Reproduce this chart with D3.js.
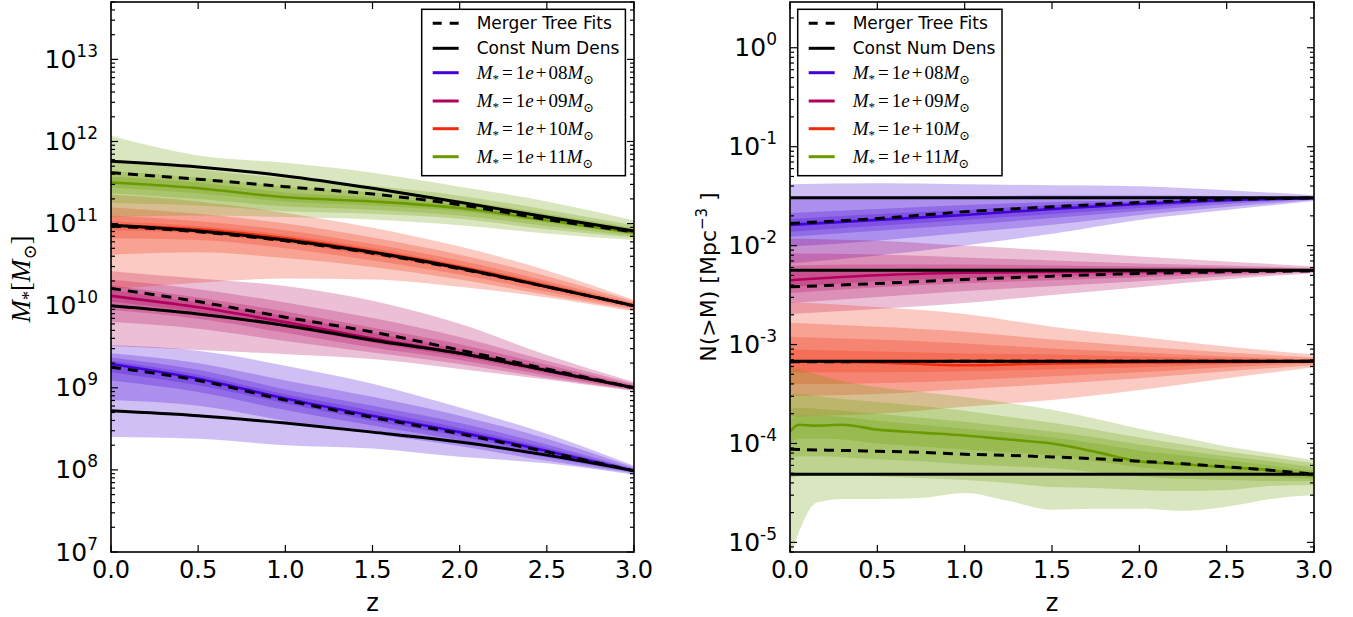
<!DOCTYPE html>
<html><head><meta charset="utf-8">
<script src="https://cdn.jsdelivr.net/npm/d3@7"></script>
<style>body{margin:0;background:#fff}svg{display:block}</style>
</head><body>
<svg id="chart" width="1353" height="617"></svg>
<script>
// ---------------- DATA ----------------
const xTicks = [0, 0.5, 1, 1.5, 2, 2.5, 3];
const seriesLabels = ["1e+08", "1e+09", "1e+10", "1e+11"];
const seriesColors = ["#4400d8", "#b0005c", "#f02a0a", "#6b9a00"];
const legendText = ["Merger Tree Fits", "Const Num Dens"];

// Left panel: log10 stellar mass vs z
const zMass = [0, 0.5, 1, 1.5, 2, 2.5, 3];
const logMassMedian = [
  [9.29, 9.11, 8.87, 8.66, 8.46, 8.23, 7.99],
  [10.12, 9.98, 9.80, 9.60, 9.42, 9.21, 9.00],
  [10.98, 10.93, 10.82, 10.66, 10.47, 10.24, 10.00],
  [11.50, 11.43, 11.32, 11.27, 11.19, 11.04, 10.89]
];
const logMassFit = [
  [9.25, 9.09, 8.85, 8.64, 8.44, 8.22, 7.99],
  [10.21, 10.05, 9.86, 9.68, 9.46, 9.23, 9.00],
  [10.97, 10.90, 10.79, 10.64, 10.45, 10.23, 10.00],
  [11.62, 11.54, 11.45, 11.36, 11.23, 11.05, 10.90]
];
const logMassConst = [
  [8.72, 8.66, 8.57, 8.46, 8.34, 8.18, 7.99],
  [10.00, 9.90, 9.76, 9.58, 9.42, 9.21, 9.00],
  [10.98, 10.91, 10.80, 10.65, 10.46, 10.23, 10.00],
  [11.76, 11.69, 11.58, 11.43, 11.26, 11.08, 10.91]
];
// bands: outermost first
const logMassHi = [
  [[9.52, 9.45, 9.27, 9.05, 8.76, 8.44, 8.05], [9.42, 9.30, 9.09, 8.89, 8.66, 8.38, 8.03], [9.37, 9.22, 8.98, 8.78, 8.57, 8.31, 8.01], [9.33, 9.16, 8.92, 8.72, 8.51, 8.27, 8.00]],
  [[10.42, 10.33, 10.24, 10.06, 9.78, 9.40, 9.07], [10.32, 10.20, 10.04, 9.85, 9.62, 9.33, 9.05], [10.25, 10.10, 9.93, 9.73, 9.53, 9.28, 9.03], [10.19, 10.04, 9.87, 9.67, 9.47, 9.24, 9.02]],
  [[11.35, 11.27, 11.13, 10.95, 10.72, 10.43, 10.07], [11.20, 11.12, 11.00, 10.83, 10.62, 10.36, 10.05], [11.10, 11.03, 10.92, 10.75, 10.55, 10.30, 10.03], [11.03, 10.97, 10.86, 10.70, 10.50, 10.27, 10.01]],
  [[12.07, 11.83, 11.74, 11.62, 11.45, 11.27, 11.04], [11.78, 11.66, 11.55, 11.46, 11.34, 11.17, 10.98], [11.64, 11.56, 11.45, 11.38, 11.28, 11.12, 10.95], [11.57, 11.50, 11.38, 11.32, 11.23, 11.08, 10.92]]
];
const logMassLo = [
  [[8.40, 8.38, 8.30, 8.26, 8.16, 8.08, 7.94], [8.85, 8.78, 8.60, 8.44, 8.29, 8.11, 7.96], [9.09, 8.95, 8.73, 8.54, 8.36, 8.15, 7.97], [9.19, 9.03, 8.81, 8.60, 8.41, 8.19, 7.98]],
  [[9.51, 9.46, 9.41, 9.35, 9.23, 9.10, 8.96], [9.80, 9.72, 9.57, 9.43, 9.29, 9.12, 8.97], [9.95, 9.84, 9.67, 9.49, 9.34, 9.15, 8.98], [10.05, 9.92, 9.74, 9.55, 9.38, 9.18, 8.99]],
  [[10.20, 10.28, 10.33, 10.32, 10.23, 10.10, 9.93], [10.62, 10.65, 10.58, 10.47, 10.32, 10.13, 9.95], [10.82, 10.80, 10.70, 10.55, 10.38, 10.17, 9.97], [10.92, 10.88, 10.77, 10.61, 10.43, 10.21, 9.99]],
  [[11.08, 11.10, 11.08, 11.05, 10.98, 10.88, 10.80], [11.25, 11.22, 11.15, 11.12, 11.06, 10.93, 10.83], [11.37, 11.30, 11.21, 11.17, 11.10, 10.97, 10.85], [11.44, 11.37, 11.27, 11.22, 11.15, 11.01, 10.87]]
];

// Right panel: log10 number density vs z
const zGreen = [0, 0.05, 0.15, 0.3, 0.5, 0.75, 1, 1.25, 1.5, 1.75, 2, 2.25, 2.5, 2.75, 3];
const zNum = [zMass, zMass, zMass, zGreen];
const logNumConst = [-1.517, -2.248, -3.169, -4.311];
const logNumMedian = [
  [-1.79, -1.74, -1.69, -1.63, -1.58, -1.54, -1.52],
  [-2.35, -2.30, -2.275, -2.265, -2.26, -2.255, -2.25],
  [-3.17, -3.18, -3.21, -3.19, -3.18, -3.175, -3.17],
  [-3.88, -3.81, -3.82, -3.81, -3.86, -3.89, -3.92, -3.96, -4.00, -4.085, -4.18, -4.21, -4.24, -4.27, -4.33]
];
const logNumFit = [
  [-1.776, -1.726, -1.658, -1.608, -1.564, -1.534, -1.517],
  [-2.417, -2.383, -2.342, -2.309, -2.282, -2.265, -2.255],
  [-3.175, -3.172, -3.17, -3.17, -3.17, -3.17, -3.17],
  [-4.058, -4.06, -4.065, -4.07, -4.078, -4.09, -4.109, -4.12, -4.136, -4.155, -4.18, -4.205, -4.237, -4.27, -4.311]
];
const logNumHi = [
  [[-1.38, -1.37, -1.38, -1.39, -1.40, -1.44, -1.49], [-1.52, -1.51, -1.50, -1.49, -1.49, -1.50, -1.51], [-1.67, -1.63, -1.59, -1.56, -1.54, -1.52, -1.515], [-1.73, -1.68, -1.64, -1.59, -1.56, -1.53, -1.515]],
  [[-1.93, -1.95, -2.00, -2.05, -2.11, -2.16, -2.21], [-2.08, -2.09, -2.12, -2.15, -2.18, -2.20, -2.23], [-2.20, -2.19, -2.19, -2.20, -2.21, -2.22, -2.24], [-2.27, -2.24, -2.23, -2.23, -2.23, -2.235, -2.245]],
  [[-2.57, -2.62, -2.69, -2.82, -2.92, -3.02, -3.10], [-2.78, -2.82, -2.87, -2.95, -3.02, -3.08, -3.13], [-2.92, -2.95, -2.99, -3.04, -3.08, -3.12, -3.15], [-3.05, -3.07, -3.09, -3.10, -3.12, -3.14, -3.16]],
  [[-3.23, -3.25, -3.30, -3.37, -3.43, -3.48, -3.53, -3.59, -3.66, -3.75, -3.85, -3.94, -4.03, -4.10, -4.17],
   [-3.50, -3.50, -3.52, -3.55, -3.58, -3.62, -3.67, -3.73, -3.79, -3.86, -3.94, -4.01, -4.08, -4.14, -4.20],
   [-3.65, -3.64, -3.65, -3.67, -3.70, -3.74, -3.78, -3.83, -3.88, -3.94, -4.01, -4.07, -4.13, -4.18, -4.24],
   [-3.76, -3.72, -3.72, -3.73, -3.77, -3.81, -3.85, -3.89, -3.94, -4.00, -4.07, -4.12, -4.17, -4.22, -4.28]]
];
const logNumLo = [
  [[-2.18, -2.10, -2.00, -1.88, -1.74, -1.64, -1.55], [-2.01, -1.95, -1.87, -1.79, -1.69, -1.61, -1.54], [-1.91, -1.85, -1.79, -1.72, -1.65, -1.58, -1.53], [-1.86, -1.80, -1.74, -1.68, -1.62, -1.56, -1.525]],
  [[-2.69, -2.64, -2.58, -2.50, -2.42, -2.34, -2.28], [-2.58, -2.52, -2.46, -2.41, -2.36, -2.31, -2.27], [-2.48, -2.42, -2.38, -2.35, -2.32, -2.29, -2.26], [-2.42, -2.36, -2.33, -2.31, -2.29, -2.27, -2.255]],
  [[-3.73, -3.70, -3.63, -3.56, -3.46, -3.34, -3.23], [-3.52, -3.50, -3.45, -3.40, -3.34, -3.27, -3.21], [-3.40, -3.39, -3.36, -3.32, -3.28, -3.23, -3.19], [-3.28, -3.28, -3.27, -3.25, -3.23, -3.20, -3.18]],
  [[-5.15, -4.90, -4.60, -4.56, -4.56, -4.55, -4.50, -4.58, -4.67, -4.66, -4.66, -4.68, -4.64, -4.56, -4.52],
   [-4.35, -4.33, -4.32, -4.32, -4.33, -4.35, -4.37, -4.40, -4.44, -4.45, -4.47, -4.48, -4.47, -4.43, -4.42],
   [-4.15, -4.13, -4.13, -4.14, -4.16, -4.18, -4.21, -4.23, -4.25, -4.29, -4.33, -4.36, -4.37, -4.38, -4.38],
   [-4.00, -3.95, -3.95, -3.96, -4.00, -4.03, -4.06, -4.09, -4.12, -4.18, -4.24, -4.28, -4.31, -4.33, -4.36]]
];

// ---------------- DRAWING ----------------
const svg = d3.select("#chart");
const SANS = "'DejaVu Sans', sans-serif";
const SERIF = "'Liberation Serif', 'DejaVu Serif', serif";
const yTop = 2, yBot = 552;

function drawPanel(cfg) {
  const x = d3.scaleLinear().domain([0, 3]).range([cfg.x0, cfg.x1]);
  const y = d3.scaleLog().domain(cfg.yDomain).range([yBot, yTop]);
  const g = svg.append("g");
  const clipId = "clip" + cfg.id;
  svg.append("clipPath").attr("id", clipId).append("rect")
    .attr("x", cfg.x0).attr("y", yTop).attr("width", cfg.x1 - cfg.x0).attr("height", yBot - yTop);
  const plot = g.append("g").attr("clip-path", `url(#${clipId})`);

  for (let s = 0; s < 4; s++) {
    const zs = cfg.z[s];
    for (let k = 0; k < 4; k++) {
      const data = zs.map((z, i) => ({ z, lo: cfg.lo[s][k][i], hi: cfg.hi[s][k][i] }));
      plot.append("path").datum(data)
        .attr("d", d3.area().x(d => x(d.z)).y0(d => y(Math.pow(10, d.lo))).y1(d => y(Math.pow(10, d.hi))).curve(d3.curveMonotoneX))
        .attr("fill", seriesColors[s]).attr("fill-opacity", 0.25).attr("stroke", "none");
    }
  }
  const line = d3.line().x(d => x(d[0])).y(d => y(Math.pow(10, d[1]))).curve(d3.curveMonotoneX);
  for (let s = 0; s < 4; s++) {
    const zs = cfg.z[s];
    plot.append("path").datum(zs.map((z, i) => [z, cfg.med[s][i]]))
      .attr("d", line).attr("fill", "none").attr("stroke", seriesColors[s]).attr("stroke-width", 2.6);
  }
  for (let s = 0; s < 4; s++) {
    const zs = cfg.z[s];
    plot.append("path").datum(zs.map((z, i) => [z, cfg.fit[s][i]]))
      .attr("d", line).attr("fill", "none").attr("stroke", "#000").attr("stroke-width", 3).attr("stroke-dasharray", "10,7");
    plot.append("path").datum(cfg.constLine(s, zs))
      .attr("d", line).attr("fill", "none").attr("stroke", "#000").attr("stroke-width", 3);
  }

  const [ylo, yhi] = cfg.yDomain;
  const majors = [], minors = [];
  for (let e = Math.floor(Math.log10(ylo)); e <= Math.ceil(Math.log10(yhi)); e++) {
    for (let m = 1; m < 10; m++) {
      const v = m * Math.pow(10, e);
      if (v < ylo * 0.999 || v > yhi * 1.001) continue;
      (m === 1 ? majors : minors).push(v);
    }
  }
  const ax = g.append("g").attr("stroke", "#000").attr("stroke-width", 1.2);
  xTicks.forEach(t => {
    const px = x(t);
    ax.append("line").attr("x1", px).attr("x2", px).attr("y1", yBot).attr("y2", yBot - 7);
    ax.append("line").attr("x1", px).attr("x2", px).attr("y1", yTop).attr("y2", yTop + 7);
  });
  majors.forEach(v => {
    const py = y(v);
    ax.append("line").attr("x1", cfg.x0).attr("x2", cfg.x0 + 7).attr("y1", py).attr("y2", py);
    ax.append("line").attr("x1", cfg.x1).attr("x2", cfg.x1 - 7).attr("y1", py).attr("y2", py);
  });
  minors.forEach(v => {
    const py = y(v);
    ax.append("line").attr("x1", cfg.x0).attr("x2", cfg.x0 + 4).attr("y1", py).attr("y2", py);
    ax.append("line").attr("x1", cfg.x1).attr("x2", cfg.x1 - 4).attr("y1", py).attr("y2", py);
  });
  g.append("rect").attr("x", cfg.x0).attr("y", yTop).attr("width", cfg.x1 - cfg.x0).attr("height", yBot - yTop)
    .attr("fill", "none").attr("stroke", "#000").attr("stroke-width", 1.6);

  xTicks.forEach(t => {
    g.append("text").attr("x", x(t)).attr("y", 578).attr("text-anchor", "middle")
      .attr("font-family", SANS).attr("font-size", 24).text(d3.format(".1f")(t));
  });
  g.append("text").attr("x", (cfg.x0 + cfg.x1) / 2).attr("y", 611).attr("text-anchor", "middle")
    .attr("font-family", SANS).attr("font-size", 24).text("z");
  majors.forEach(v => {
    const e = Math.round(Math.log10(v));
    const tx = g.append("text").attr("x", cfg.x0 - 13).attr("y", y(v) + 8.5).attr("text-anchor", "end")
      .attr("font-family", SANS).attr("font-size", 25);
    tx.append("tspan").text("10");
    tx.append("tspan").attr("font-size", 17).attr("dy", -11).text(String(e));
  });

  const lg = g.append("g");
  lg.append("rect").attr("x", cfg.lx0).attr("y", 9.3).attr("width", cfg.lx1 - cfg.lx0).attr("height", 166.4)
    .attr("fill", "#fff").attr("stroke", "#000").attr("stroke-width", 1.5);
  const rows = [23.3, 48.3, 72.7, 101, 128.7, 156.7];
  const sx0 = cfg.lx0 + 11, sx1 = cfg.lx0 + 37, tx0 = cfg.lx0 + 55;
  rows.forEach((ry, i) => {
    const ln = lg.append("line").attr("x1", sx0).attr("x2", sx1).attr("y1", ry).attr("y2", ry)
      .attr("stroke-width", 3).attr("stroke", i < 2 ? "#000" : seriesColors[i - 2]);
    if (i === 0) ln.attr("stroke-dasharray", "9,8");
    if (i < 2) {
      lg.append("text").attr("x", tx0).attr("y", ry + 6).attr("font-family", SANS).attr("font-size", 17).text(legendText[i]);
    } else {
      const t = lg.append("text").attr("x", tx0).attr("y", ry + 6).attr("font-family", SERIF).attr("font-size", 19);
      t.append("tspan").attr("font-style", "italic").text("M");
      t.append("tspan").attr("font-size", 13).attr("dy", 4).text("*");
      t.append("tspan").attr("dy", -4).attr("dx", 3).text("=");
      t.append("tspan").attr("dx", 3).text("1");
      t.append("tspan").attr("font-style", "italic").text("e");
      t.append("tspan").attr("dx", 2).text("+");
      t.append("tspan").attr("dx", 2).text(seriesLabels[i - 2].slice(3));
      t.append("tspan").attr("font-style", "italic").text("M");
      t.append("tspan").attr("font-size", 13).attr("dy", 5).text("⊙");
    }
  });
  return g;
}

drawPanel({
  id: "L", x0: 111, x1: 634, yDomain: [1e7, 5e13],
  z: [zMass, zMass, zMass, zMass], med: logMassMedian, fit: logMassFit, hi: logMassHi, lo: logMassLo,
  constLine: (s, zs) => zs.map((z, i) => [z, logMassConst[s][i]]),
  lx0: 421.7, lx1: 625.4
});
drawPanel({
  id: "R", x0: 790, x1: 1314, yDomain: [8e-6, 2.9],
  z: zNum, med: logNumMedian, fit: logNumFit, hi: logNumHi, lo: logNumLo,
  constLine: (s, zs) => zs.map(z => [z, logNumConst[s]]),
  lx0: 797.7, lx1: 1002
});

const yl = svg.append("text").attr("transform", "translate(30,279) rotate(-90)").attr("text-anchor", "middle")
  .attr("font-family", SERIF).attr("font-size", 27);
yl.append("tspan").attr("font-style", "italic").text("M");
yl.append("tspan").attr("font-size", 18).attr("dy", 5).text("*");
yl.append("tspan").attr("dy", -5).text("[");
yl.append("tspan").attr("font-style", "italic").text("M");
yl.append("tspan").attr("font-size", 18).attr("dy", 6).text("⊙");
yl.append("tspan").attr("dy", -6).text("]");

const yr = svg.append("text").attr("transform", "translate(716,277) rotate(-90)").attr("text-anchor", "middle")
  .attr("font-family", SANS).attr("font-size", 22);
yr.append("tspan").text("N(>M) [Mpc");
yr.append("tspan").attr("font-size", 15).attr("dy", -9).text("−3");
yr.append("tspan").attr("dy", 9).text(" ]");
</script>
</body></html>
